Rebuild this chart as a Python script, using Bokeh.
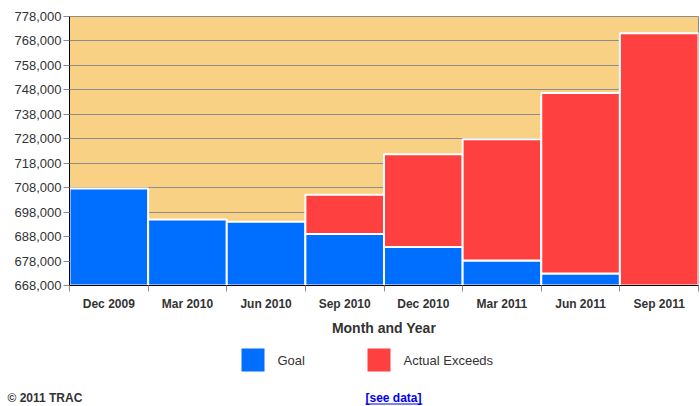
from bokeh.plotting import figure
from bokeh.layouts import column
from bokeh.models import FixedTicker, NumeralTickFormatter, Range1d
from bokeh.core.properties import value
from bokeh.embed import file_html
from bokeh.resources import INLINE

# ---- data ----
months = ["Dec 2009", "Mar 2010", "Jun 2010", "Sep 2010",
          "Dec 2010", "Mar 2011", "Jun 2011", "Sep 2011"]
goal = [707700, 695000, 694100, 689100, 683700, 678200, 672900, 668000]
actual_exceeds = [0, 0, 0, 16000, 38000, 49600, 73800, 103100]
y_ticks = list(range(668000, 778001, 10000))
series_names = ["Goal", "Actual Exceeds"]
footer_left = "© 2011 TRAC"
footer_link = "[see data]"

BLUE = "#006EFF"
RED = "#FF4040"
BG = "#F9D185"
TXT = "#333333"
LINK = "#0000EE"
FONT = "Liberation Sans"

W = 700
H_MAIN = 340
H_FOOT = 66

y0 = y_ticks[0]
y1 = y_ticks[-1]

p = figure(width=W, height=H_MAIN, output_backend="svg", toolbar_location=None,
           x_range=Range1d(0, len(months)), y_range=Range1d(y0, y1),
           min_border_left=69, min_border_right=2, min_border_top=16,
           min_border_bottom=55)
p.background_fill_color = BG
p.border_fill_color = "white"
p.outline_line_color = "#8C8C8C"
p.outline_line_width = 1

# bars
xs = [i + 0.5 for i in range(len(months))]
b_x = [x for x, g in zip(xs, goal) if g > y0]
b_top = [g for g in goal if g > y0]
p.vbar(x=b_x, top=b_top, bottom=y0, width=1, fill_color=BLUE,
       line_color="white", line_width=2)
r_x = [x for x, e in zip(xs, actual_exceeds) if e > 0]
r_bot = [g for g, e in zip(goal, actual_exceeds) if e > 0]
r_top = [g + e for g, e in zip(goal, actual_exceeds) if e > 0]
p.vbar(x=r_x, top=r_top, bottom=r_bot, width=1, fill_color=RED,
       line_color="white", line_width=2)

# grid
p.xgrid.grid_line_color = None
p.ygrid.ticker = FixedTicker(ticks=y_ticks)
p.ygrid.grid_line_color = "#8C8C8C"
p.ygrid.grid_line_width = 1

# y axis
p.yaxis.ticker = FixedTicker(ticks=y_ticks)
p.yaxis.formatter = NumeralTickFormatter(format="0,0")
p.yaxis.axis_line_color = "black"
p.yaxis.major_tick_line_color = "#8C8C8C"
p.yaxis.major_tick_out = 6
p.yaxis.major_tick_in = 0
p.yaxis.minor_tick_line_color = None
p.yaxis.major_label_text_font = FONT
p.yaxis.major_label_text_font_size = "13px"
p.yaxis.major_label_text_color = TXT
p.yaxis.major_label_standoff = 2

# x axis
p.xaxis.ticker = FixedTicker(ticks=xs, minor_ticks=list(range(len(months) + 1)))
p.xaxis.major_label_overrides = {x: m for x, m in zip(xs, months)}
p.xaxis.major_tick_line_color = None
p.xaxis.major_tick_out = 6
p.xaxis.major_tick_in = 0
p.xaxis.minor_tick_line_color = "#8C8C8C"
p.xaxis.minor_tick_out = 6
p.xaxis.minor_tick_in = 0
p.xaxis.axis_line_color = "black"
p.xaxis.major_label_text_font = FONT
p.xaxis.major_label_text_font_style = "bold"
p.xaxis.major_label_text_font_size = "12px"
p.xaxis.major_label_text_color = TXT
p.xaxis.major_label_standoff = 5
p.xaxis.axis_label = "Month and Year"
p.xaxis.axis_label_text_font = FONT
p.xaxis.axis_label_text_font_style = "bold"
p.xaxis.axis_label_text_font_size = "14px"
p.xaxis.axis_label_text_color = TXT
p.xaxis.axis_label_standoff = 6

# ---- legend + footer strip (page-pixel coordinates) ----
f = figure(width=W, height=H_FOOT, output_backend="svg", toolbar_location=None,
           x_range=Range1d(0, W), y_range=Range1d(H_MAIN + H_FOOT, H_MAIN),
           x_axis_type=None, y_axis_type=None,
           min_border_left=0, min_border_right=0, min_border_top=0,
           min_border_bottom=0)
if "frame_align" in f.properties():
    f.frame_align = False
    p.frame_align = False
f.outline_line_color = None
f.background_fill_color = "white"
f.grid.visible = False

sw_left = [241, 367]
sw_color = [BLUE, RED]
f.quad(left=sw_left, right=[v + 23 for v in sw_left], top=[348, 348],
       bottom=[371, 371], fill_color=sw_color, line_color=None)
f.text(x=[v + 36 for v in sw_left], y=[360, 360], text=series_names,
       text_font=value(FONT), text_font_size="13px", text_color=TXT,
       text_baseline="middle", text_align="left")

f.text(x=[7], y=[397], text=[footer_left], text_font=value(FONT),
       text_font_style="bold", text_font_size="12px", text_color=TXT,
       text_baseline="middle", text_align="left")
f.text(x=[365], y=[397], text=[footer_link], text_font=value(FONT),
       text_font_style="bold", text_font_size="12px", text_color=LINK,
       text_baseline="middle", text_align="left")
f.segment(x0=[365], x1=[422], y0=[403.5], y1=[403.5], line_color=LINK,
          line_width=1)

layout = column(p, f, spacing=0)
open("out.html", "w").write(file_html(layout, INLINE))
